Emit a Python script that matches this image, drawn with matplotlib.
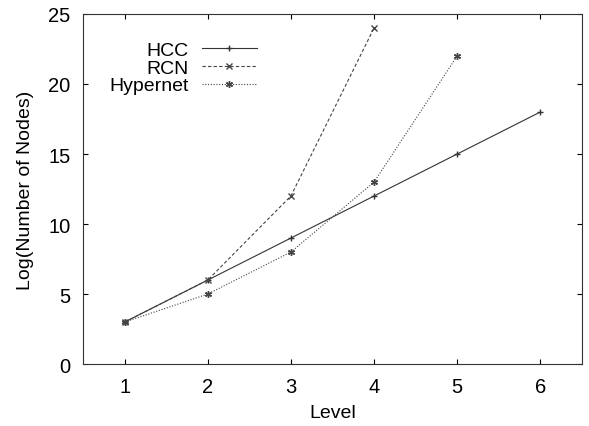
import matplotlib
matplotlib.use('Agg')
import matplotlib.pyplot as plt

plt.rcParams['font.family'] = ['Liberation Sans', 'DejaVu Sans']

# data
hcc_x = [1, 2, 3, 4, 5, 6]
hcc_y = [3, 6, 9, 12, 15, 18]
rcn_x = [1, 2, 3, 4]
rcn_y = [3, 6, 12, 24]
hyp_x = [1, 2, 3, 4, 5]
hyp_y = [3, 5, 8, 13, 22]

fig = plt.figure(figsize=(5.89, 4.27), dpi=100)
ax = fig.add_axes([0.141, 0.145, 0.847, 0.82])

ax.plot(hcc_x, hcc_y, color='#333333', linestyle='-', linewidth=0.8,
        marker='+', markersize=5, label='HCC')
ax.plot(rcn_x, rcn_y, color='#444444', linestyle=(0, (3, 2)), linewidth=0.8,
        marker='x', markersize=4, label='RCN')
ax.plot(hyp_x, hyp_y, color='#444444', linestyle=(0, (1, 1.5)), linewidth=0.8,
        marker=(6, 2, 0), markersize=5, label='Hypernet')

ax.set_xlim(0.5, 6.5)
ax.set_ylim(0, 25)
ax.set_xticks([1, 2, 3, 4, 5, 6])
ax.set_yticks([0, 5, 10, 15, 20, 25])
for s in ax.spines.values():
    s.set_linewidth(0.8)
    s.set_color('#333333')
ax.tick_params(direction='in', top=True, right=True, labelsize=14.5, pad=9,
               width=0.8)
ax.set_xlabel('Level', fontsize=14, labelpad=6)
ax.set_ylabel('Log(Number of Nodes)', fontsize=14, labelpad=10)

ax.legend(loc='upper left', bbox_to_anchor=(0.025, 0.96), frameon=False,
          markerfirst=False, fontsize=14, handlelength=2.8,
          labelspacing=0.0, borderpad=0.2, handletextpad=0.7)

fig.savefig('out.png', dpi=100)
